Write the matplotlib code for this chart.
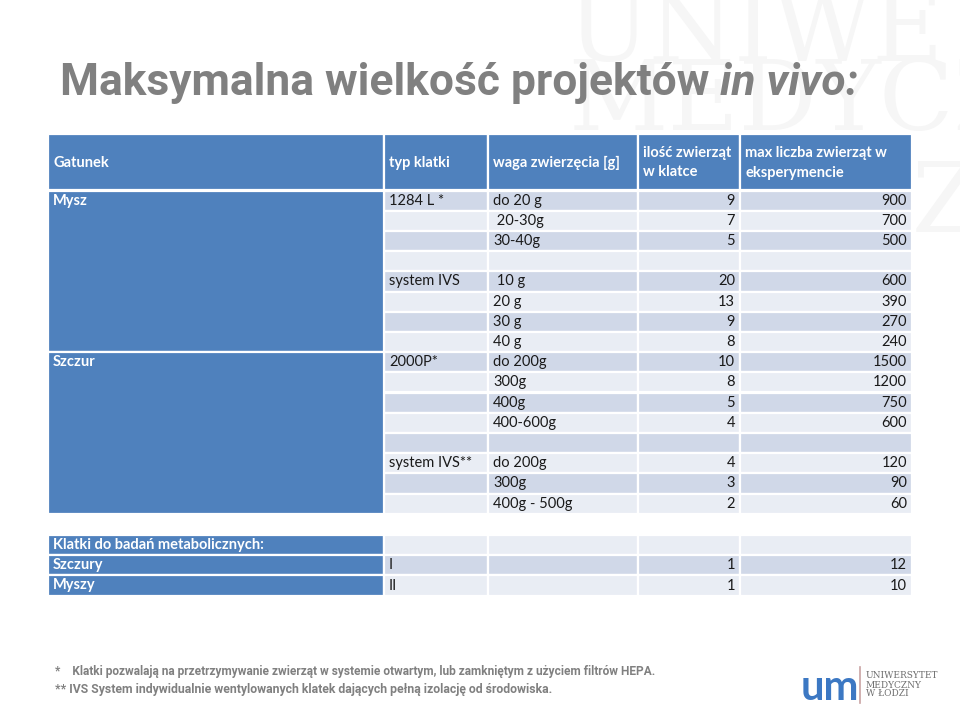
import matplotlib.pyplot as plt
from matplotlib.patches import Rectangle

# table data
header = ["Gatunek", "typ klatki", "waga zwierzęcia [g]",
          "ilość zwierząt\nw klatce", "max liczba zwierząt w\neksperymencie"]
species = ["Mysz", "Szczur"]
species_rows = [8, 8]
cage_type = ["1284 L *", "", "", "", "system IVS", "", "", "",
             "2000P*", "", "", "", "", "system IVS**", "", ""]
weight = ["do 20 g", " 20-30g", "30-40g", "", " 10 g", "20 g", "30 g", "40 g",
          "do 200g", "300g", "400g", "400-600g", "", "do 200g", "300g", "400g - 500g"]
per_cage = [9, 7, 5, None, 20, 13, 9, 8, 10, 8, 5, 4, None, 4, 3, 2]
max_animals = [900, 700, 500, None, 600, 390, 270, 240, 1500, 1200, 750, 600,
               None, 120, 90, 60]

meta_labels = ["Klatki do badań metabolicznych:", "Szczury", "Myszy"]
meta_type = ["", "I", "II"]
meta_per_cage = [None, 1, 1]
meta_max = [None, 12, 10]

footnotes = ["*    Klatki pozwalają na przetrzymywanie zwierząt w systemie otwartym, lub zamkniętym z użyciem filtrów HEPA.",
             "** IVS System indywidualnie wentylowanych klatek dających pełną izolację od środowiska."]

BLUE = "#4F81BD"
DARK = "#D0D8E8"
LIGHT = "#E9EDF4"
TXT = "#1A1A1A"
GRAY = "#808080"
WATERMARK = "#F6F6F6"
body_font = ["Lato", "DejaVu Sans"]
narrow = ["Roboto", "DejaVu Sans"]

fig = plt.figure(figsize=(9.6, 7.07), dpi=100)
ax = fig.add_axes([0, 0, 1, 1])
ax.set_xlim(0, 960)
ax.set_ylim(707, 0)
ax.axis("off")
renderer = fig.canvas.get_renderer()


def width_px(t):
    bb = t.get_window_extent(renderer)
    return bb.x1 - bb.x0


def fit(texts, target, size):
    total = sum(width_px(t) for t in texts)
    for t in texts:
        t.set_fontsize(size * target / total)


# faint watermark letters
ax.text(568, 60, "UNIWE", fontsize=70, family="DejaVu Serif", color=WATERMARK,
        va="baseline", ha="left", zorder=0)
ax.text(568, 130, "MEDYCZ", fontsize=70, family="DejaVu Serif", color=WATERMARK,
        va="baseline", ha="left", zorder=0)
ax.text(912, 232, "Z", fontsize=70, family="DejaVu Serif", color=WATERMARK,
        va="baseline", ha="left", zorder=0)

# title
t1 = ax.text(60, 95, "Maksymalna wielkość projektów ", fontsize=38, fontweight="bold",
             family=narrow, color=GRAY, va="baseline", ha="left")
t2 = ax.text(0, 95, "in vivo:", fontsize=38, fontweight="bold", fontstyle="italic",
             family=narrow, color=GRAY, va="baseline", ha="left")
fit([t1, t2], 798, 38)
bb = t1.get_window_extent(renderer).transformed(ax.transData.inverted())
t2.set_x(bb.x1)

cols = [48, 384, 488, 638, 740, 912]
fs = 10.5


def cell(x0, x1, y0, y1, color):
    ax.add_patch(Rectangle((x0, y0), x1 - x0, y1 - y0, facecolor=color,
                           edgecolor="white", linewidth=1.6, zorder=1))


# header
h0, h1 = 134, 189.5
for i, label in enumerate(header):
    cell(cols[i], cols[i + 1], h0, h1, BLUE)
    ax.text(cols[i] + 5, (h0 + h1) / 2 + 1, label, fontsize=fs, fontweight="bold",
            color="white", family=body_font, va="center", ha="left",
            linespacing=1.5, zorder=2)

# body
top = 190.5
pitch = 20.2
n = len(weight)
for r in range(n):
    y0 = top + r * pitch
    y1 = y0 + pitch
    yc = (y0 + y1) / 2
    band = DARK if r % 2 == 0 else LIGHT
    for c in range(1, 5):
        cell(cols[c], cols[c + 1], y0, y1, band)
    ax.text(cols[1] + 5, yc, cage_type[r], fontsize=fs, color=TXT, family=body_font,
            va="center", ha="left", zorder=2)
    ax.text(cols[2] + 5, yc, weight[r], fontsize=fs, color=TXT, family=body_font,
            va="center", ha="left", zorder=2)
    if per_cage[r] is not None:
        ax.text(cols[4] - 5, yc, str(per_cage[r]), fontsize=fs, color=TXT,
                family=body_font, va="center", ha="right", zorder=2)
    if max_animals[r] is not None:
        ax.text(cols[5] - 5, yc, str(max_animals[r]), fontsize=fs, color=TXT,
                family=body_font, va="center", ha="right", zorder=2)

start = 0
for name, k in zip(species, species_rows):
    y0 = top + start * pitch
    y1 = y0 + k * pitch
    cell(cols[0], cols[1], y0, y1, BLUE)
    ax.text(cols[0] + 5, y0 + pitch / 2, name, fontsize=fs, fontweight="bold",
            color="white", family=body_font, va="center", ha="left", zorder=2)
    start += k

# metabolic cages table
mtop = 535
for r in range(len(meta_labels)):
    y0 = mtop + r * pitch
    y1 = y0 + pitch
    yc = (y0 + y1) / 2
    band = LIGHT if r % 2 == 0 else DARK
    cell(cols[0], cols[1], y0, y1, BLUE)
    for c in range(1, 5):
        cell(cols[c], cols[c + 1], y0, y1, band)
    ax.text(cols[0] + 5, yc, meta_labels[r], fontsize=fs, fontweight="bold",
            color="white", family=body_font, va="center", ha="left", zorder=2)
    ax.text(cols[1] + 5, yc, meta_type[r], fontsize=fs, color=TXT,
            family=body_font, va="center", ha="left", zorder=2)
    if meta_per_cage[r] is not None:
        ax.text(cols[4] - 5, yc, str(meta_per_cage[r]), fontsize=fs, color=TXT,
                family=body_font, va="center", ha="right", zorder=2)
    if meta_max[r] is not None:
        ax.text(cols[5] - 5, yc, str(meta_max[r]), fontsize=fs, color=TXT,
                family=body_font, va="center", ha="right", zorder=2)

# footnotes, fitted to the widths seen on the slide
fn_widths = [605, 497]
for i, line in enumerate(footnotes):
    t = ax.text(55, 672 + i * 18, line, fontsize=11, fontweight="bold", family=narrow,
                color=GRAY, va="center", ha="left")
    fit([t], fn_widths[i], 11)

# logo
ax.text(801, 700, "um", fontsize=30, fontweight="bold", color="#3C78C3",
        family=body_font, va="baseline", ha="left")
ax.plot([860, 860], [667, 703], color="#C9A3A3", linewidth=1.2)
ax.text(866, 685, "UNIWERSYTET\nMEDYCZNY\nW ŁODZI", fontsize=6.5, family="DejaVu Serif",
        color="#6E6E6E", va="center", ha="left", linespacing=1.0)

fig.savefig("out.png", dpi=100)
